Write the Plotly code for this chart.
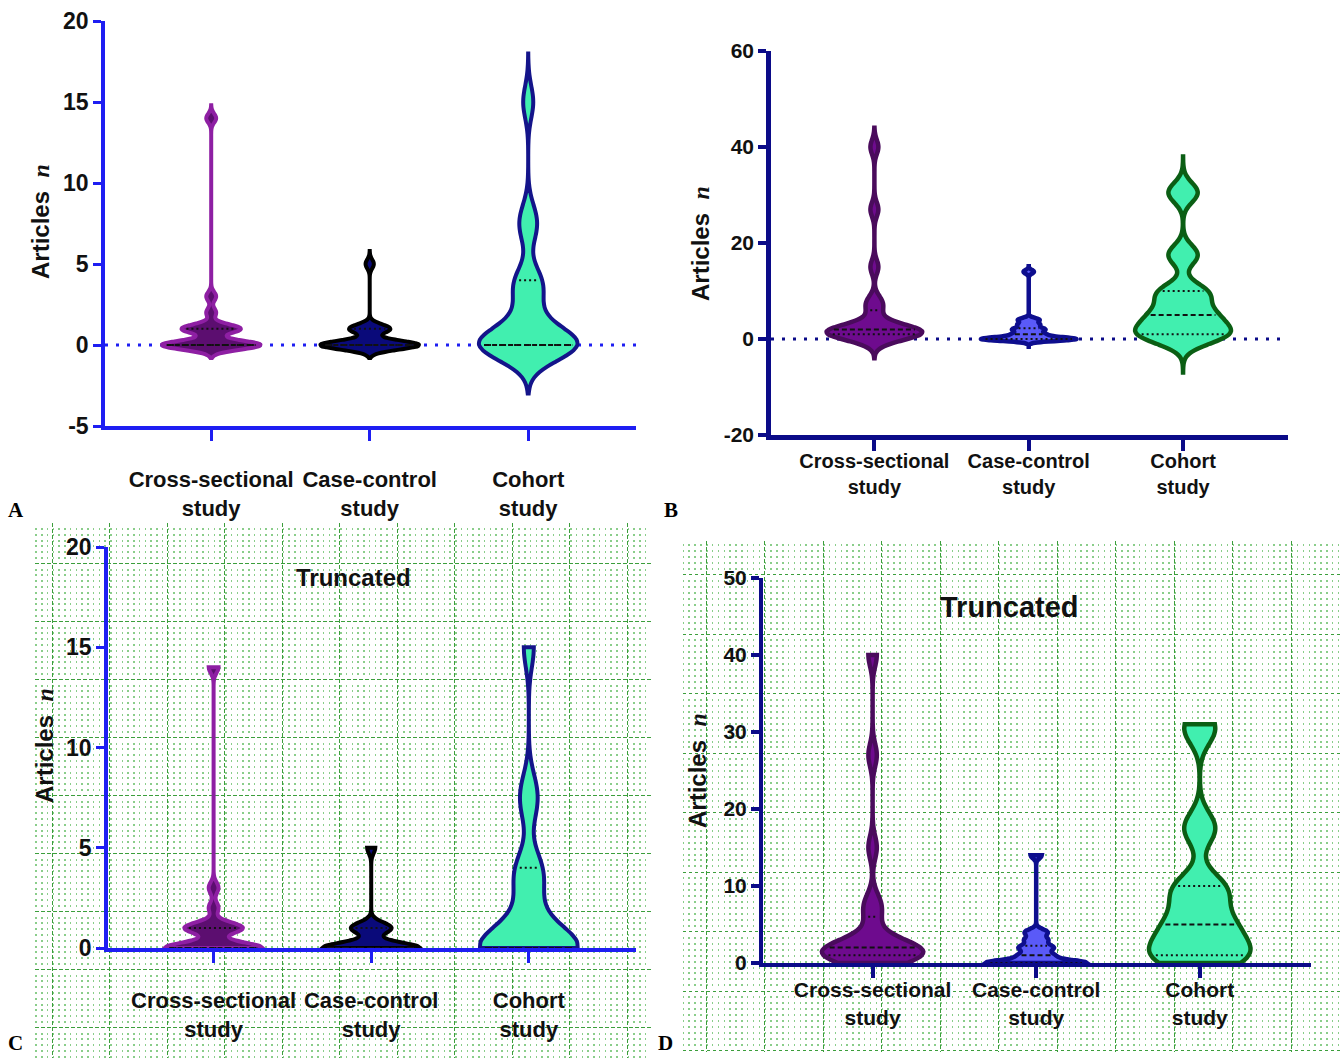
import numpy as np
import plotly.graph_objects as go

W, H = 1341, 1058

# ---------------- data ----------------
categories = ["Cross-sectional<br>study", "Case-control<br>study", "Cohort<br>study"]
cat_pos = [0, 1, 2]

# Panel A / C (same data; C truncated)
a_cross = [0, 0, 0, 0, 0, 0, 0, 0, 0, 0, 1, 1, 1, 1, 1, 1, 2, 3, 14]
a_case = [0, 0, 0, 0, 0, 0, 0, 0, 0, 0, 0, 0, 1, 1, 1, 1, 1, 5]
a_cohort = [0, 0, 0, 0, 0, 0, 0, 0, 0, 1, 2, 3, 4, 4, 7, 8, 15]

# Panel B / D (same data; D truncated)
b_cross = [0, 1, 1, 1, 1, 1, 1, 2, 2, 2, 2, 2, 2, 5, 7, 8, 15, 27, 40]
b_case = [0, 0, 0, 0, 0, 0, 0, 0, 0, 1, 1, 1, 2, 2, 2, 3, 3, 4, 4, 14]
b_cohort = [0, 1, 1, 1, 1, 3, 4, 5, 5, 7, 9, 10, 10, 17, 18, 30, 31]

a_ticks = [-5, 0, 5, 10, 15, 20]
b_ticks = [-20, 0, 20, 40, 60]
c_ticks = [0, 5, 10, 15, 20]
d_ticks = [0, 10, 20, 30, 40, 50]

# smoothing (bandwidth, extension beyond data for untruncated violins)
smooth_ab = {
    "a": [(0.28, 0.8), (0.28, 0.8), (1.0, 3.0)],
    "b": [(1.5, 4.0), (0.4, 1.6), (2.0, 7.0)],
}

# ---------------- styles ----------------
BLUE = "#1E1EF2"
NAVY = "#0B0B88"
style_a = [("#5C0E70", "#8E1FA3"), ("#0A0A7A", "#000000"), ("#41EFAF", "#14148A")]
style_b = [("#6E0B8E", "#4A0B5C"), ("#5A5AF8", "#0E0E8E"), ("#41EFAF", "#0B5E14")]
HALF = 0.31
XR = [-0.67, 2.68]
SANS = "Liberation Sans"
NARROW = "Liberation Sans Narrow, Liberation Sans"


def px(x):
    return x / W


def py(y):
    return 1 - y / H


def kde(vals, h, ys):
    v = np.asarray(vals, float)[:, None]
    return np.exp(-0.5 * ((np.asarray(ys, float)[None, :] - v) / h) ** 2).sum(0)


fig = go.Figure()

# background grids (C and D) as separate axes: dashed majors, dot-lattice minors
grid_specs = [
    ("", [px(35.25), px(651)], [0.0, py(523)], [-3, 104.1], [-85.2, 7.04], "1.5px,4.25px"),
    ("2", [px(682.6), 1.0], [py(1052), py(541)], [-4, 108.5], [-80.2, 5.71], "1.5px,4.35px"),
]
for gid, xd, yd, xr, yr, mdash in grid_specs:
    fig.add_trace(go.Scatter(x=[None], y=[None], xaxis="x" + gid, yaxis="y" + gid,
                             showlegend=False, hoverinfo="skip"))
    common = dict(showgrid=True, gridcolor="#3C9E3C", gridwidth=1, griddash="3.5px,2.5px",
                  dtick=10, tick0=0, showticklabels=False, ticks="", zeroline=False,
                  showline=False, fixedrange=True, automargin=False)
    fig.update_layout({
        "xaxis" + gid: dict(domain=xd, range=xr, anchor="y" + gid, **common),
        "yaxis" + gid: dict(domain=yd, range=yr, anchor="x" + gid,
                            minor=dict(dtick=1, tick0=0, showgrid=True, gridcolor="#8ACD8A",
                                       gridwidth=1.5, griddash=mdash, ticks=""),
                            **common),
    })


def add_panel(n, datasets, smooth, styles, lw, truncated):
    xa, ya = "x%d" % n, "y%d" % n
    for i, (vals, (h, ext), (fill, line)) in enumerate(zip(datasets, smooth, styles)):
        v = np.asarray(vals, float)
        lo, hi = v.min(), v.max()
        span = [lo, hi] if truncated else [lo - ext, hi + ext]
        fig.add_trace(go.Violin(
            y=v, x0=cat_pos[i], xaxis=xa, yaxis=ya, bandwidth=h,
            spanmode="manual", span=span, width=2 * HALF, scalemode="width",
            fillcolor=fill, line=dict(color=line, width=lw), points=False,
            box_visible=False, meanline_visible=False, showlegend=False,
            hoverinfo="skip", opacity=1))
        ys = np.linspace(span[0], span[1], 2000)
        dmax = kde(v, h, ys).max()
        q1, q2, q3 = np.percentile(v, [25, 50, 75])
        for q, dash in ((q1, "2px,3px"), (q3, "2px,3px"), (q2, "5px,3px")):
            w = HALF * kde(v, h, [q])[0] / dmax - 0.03
            if w > 0.01:
                fig.add_trace(go.Scatter(
                    x=[cat_pos[i] - w, cat_pos[i] + w], y=[q, q], xaxis=xa, yaxis=ya,
                    mode="lines", line=dict(color="#111111", width=2, dash=dash),
                    showlegend=False, hoverinfo="skip"))


add_panel(3, [a_cross, a_case, a_cohort], smooth_ab["a"], style_a, 4, False)
add_panel(4, [b_cross, b_case, b_cohort], smooth_ab["b"], style_b, 4.5, False)
add_panel(5, [a_cross, a_case, a_cohort], smooth_ab["a"], style_a, 4, True)
add_panel(6, [b_cross, b_case, b_cohort], smooth_ab["b"], style_b, 4.5, True)

panels = [
    # n, xdom px, ydom px (top, bottom), yrange, ticks, color, lw, family, xsize, ysize, standoff
    (3, (105, 636), (21, 426), [-5, 20], a_ticks, BLUE, 3.5, SANS, 22, 23, 20),
    (4, (771, 1288), (51, 435), [-20, 60], b_ticks, NAVY, 4.5, NARROW, 20, 21, -7),
    (5, (108, 636), (547, 948), [0, 20], c_ticks, BLUE, 3.5, SANS, 22, 23, 19),
    (6, (763, 1311), (578, 963), [0, 50], d_ticks, NAVY, 4, NARROW, 21, 21, -6),
]
for n, (x0, x1), (t, b), yr, yt, col, lw, fam, xs, ysz, so in panels:
    fig.update_layout({
        "xaxis%d" % n: dict(domain=[px(x0), px(x1)], range=XR, anchor="y%d" % n,
                            showline=True, linecolor=col, linewidth=lw,
                            ticks="outside", ticklen=11, tickwidth=lw - 0.5, tickcolor=col,
                            tickvals=cat_pos, ticktext=["<b>%s</b>" % c for c in categories],
                            tickfont=dict(family=fam, size=xs, color="#111111"),
                            ticklabelstandoff=so, showgrid=False, zeroline=False,
                            fixedrange=True, automargin=False),
        "yaxis%d" % n: dict(domain=[py(b), py(t)], range=yr, anchor="x%d" % n,
                            showline=True, linecolor=col, linewidth=lw,
                            ticks="outside", ticklen=8, tickwidth=lw - 0.5, tickcolor=col,
                            tickvals=yt, ticktext=["<b>%d</b>" % v for v in yt],
                            tickfont=dict(family=fam, size=ysz, color="#111111"),
                            showgrid=False, zeroline=False, fixedrange=True, automargin=False),
    })

# dotted zero reference lines in A and B
for n, col in ((3, BLUE), (4, NAVY)):
    fig.add_shape(type="line", xref="x%d domain" % n, x0=0, x1=1, yref="y%d" % n, y0=0, y1=0,
                  line=dict(color=col, width=3, dash="3px,8px"), layer="below")

annotations = []
ytitle = "<b>Articles</b>&nbsp;&nbsp;<span style=\"font-family:Liberation Serif\"><b><i>n</i></b></span>"
for xpx, ypx in ((40, 222), (701, 244), (44, 746), (697, 771)):
    annotations.append(dict(x=px(xpx), y=py(ypx), xref="paper", yref="paper", text=ytitle,
                            textangle=-90, showarrow=False, xanchor="center", yanchor="middle",
                            font=dict(family=SANS, size=24, color="#111111")))
annotations.append(dict(x=px(353), y=py(577), xref="paper", yref="paper", text="<b>Truncated</b>",
                        showarrow=False, xanchor="center", yanchor="middle",
                        font=dict(family=SANS, size=24, color="#111111")))
annotations.append(dict(x=px(1009), y=py(607), xref="paper", yref="paper", text="<b>Truncated</b>",
                        showarrow=False, xanchor="center", yanchor="middle",
                        font=dict(family=NARROW, size=29, color="#111111")))
for letter, xpx, ypx, anc in (("A", 16, 510, "middle"), ("B", 671, 510, "middle"),
                              ("C", 16, 1057, "bottom"), ("D", 665, 1057, "bottom")):
    annotations.append(dict(x=px(xpx), y=py(ypx), xref="paper", yref="paper", text="<b>%s</b>" % letter,
                            showarrow=False, xanchor="center", yanchor=anc,
                            font=dict(family="Liberation Serif", size=21, color="#000000")))

fig.update_layout(width=W, height=H, margin=dict(l=0, r=0, t=0, b=0, autoexpand=False),
                  paper_bgcolor="white", plot_bgcolor="rgba(0,0,0,0)",
                  showlegend=False, violinmode="overlay", annotations=annotations)

fig.write_html("out.html", config={"displayModeBar": False},
               post_script="document.body.style.margin='0';document.body.style.overflow='hidden';")
